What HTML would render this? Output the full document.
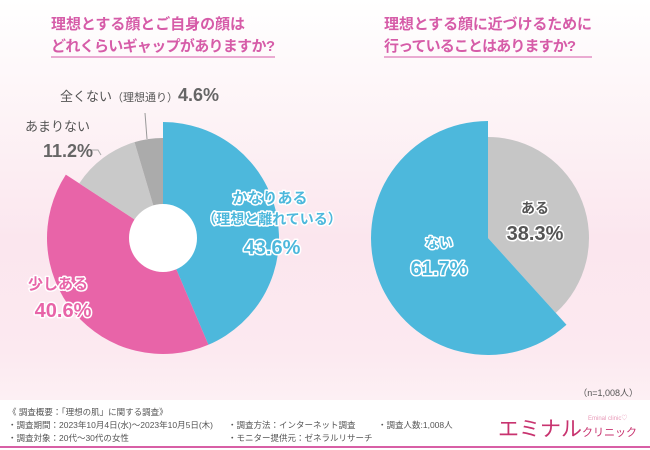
<!DOCTYPE html>
<html><head><meta charset="utf-8"><style>
body{margin:0;width:650px;height:450px;overflow:hidden;font-family:"Liberation Sans","Noto Sans CJK JP",sans-serif;}
svg{display:block}
text{font-family:"Liberation Sans","Noto Sans CJK JP",sans-serif;}
</style></head><body>
<svg id="chart" width="650" height="450" viewBox="0 0 650 450">
<defs>
<linearGradient id="bg" x1="0" y1="0" x2="0" y2="1">
<stop offset="0" stop-color="#ffffff"/><stop offset="0.3" stop-color="#fdf3f6"/><stop offset="0.6" stop-color="#fbe6ee"/><stop offset="0.88" stop-color="#fce9f0"/><stop offset="1" stop-color="#fdf0f4"/>
</linearGradient>
</defs>
<rect width="650" height="400" fill="url(#bg)"/>
<rect y="400" width="650" height="50" fill="#ffffff"/>
<line x1="0" y1="447" x2="650" y2="447" stroke="#d85fa6" stroke-width="2"/>
<g fill="#d65ca8" font-size="15" font-weight="bold">
<text x="51" y="29" textLength="194">理想とする顔とご自身の顔は</text>
<text x="51" y="51" textLength="224">どれくらいギャップがありますか?</text>
<text x="384" y="29" textLength="208">理想とする顔に近づけるために</text>
<text x="384" y="51" textLength="192">行っていることはありますか?</text>
</g>
<line x1="51" y1="57" x2="275" y2="57" stroke="#d65ca8" stroke-width="1"/>
<line x1="384" y1="57" x2="592" y2="57" stroke="#d65ca8" stroke-width="1"/>
<g id="pies"></g>
<g font-size="12" fill="#555">
<line x1="147" y1="139" x2="145" y2="113" stroke="#999"/>
<path d="M90 150 H98 L101 155" fill="none" stroke="#aaa"/>
<text x="60" y="101" font-size="13">全くない<tspan font-size="11">（理想通り）</tspan><tspan font-size="18" font-weight="bold" fill="#666">4.6%</tspan></text>
<text x="25" y="131" font-size="13">あまりない</text>
<text x="43" y="157" font-size="18" font-weight="bold" fill="#666">11.2%</text>
</g>
<g font-weight="bold" stroke="#fff" stroke-width="3" paint-order="stroke" stroke-linejoin="round">
<text x="270" y="203" font-size="15" fill="#4db8dc" text-anchor="middle">かなりある</text>
<text x="272" y="224" font-size="14" fill="#4db8dc" text-anchor="middle">（理想と離れている）</text>
<text x="272" y="254" font-size="20" fill="#4db8dc" text-anchor="middle">43.6%</text>
<text x="58" y="289" font-size="15" fill="#e864a8" text-anchor="middle">少しある</text>
<text x="63" y="317" font-size="20" fill="#e864a8" text-anchor="middle">40.6%</text>
<text x="535" y="213" font-size="14" fill="#555" text-anchor="middle">ある</text>
<text x="535" y="240" font-size="20" fill="#555" text-anchor="middle">38.3%</text>
<text x="439" y="248" font-size="14" fill="#4db8dc" text-anchor="middle">ない</text>
<text x="439" y="275" font-size="20" fill="#4db8dc" text-anchor="middle">61.7%</text>
</g>
<text x="638" y="396" font-size="9" fill="#555" text-anchor="end">（n=1,008人）</text>
<g font-size="8.5" fill="#555">
<text x="8" y="415">《 調査概要：「理想の肌」に関する調査》</text>
<text x="8" y="428">・調査期間：2023年10月4日(水)～2023年10月5日(木)</text>
<text x="8" y="441">・調査対象：20代～30代の女性</text>
<text x="228" y="428">・調査方法：インターネット調査</text>
<text x="228" y="441">・モニター提供元：ゼネラルリサーチ</text>
<text x="378" y="428">・調査人数:1,008人</text>
</g>
<text x="498" y="436" font-size="21" fill="#c8336f">エミナル<tspan font-size="11">クリニック</tspan></text>
<text x="588" y="420" font-size="6" fill="#e89ab8">Eminal clinic♡</text>
</svg>
<script>
const leftCategories = ["かなりある", "少しある", "あまりない", "全くない"];
const leftValues = [43.6, 40.6, 11.2, 4.6];
const leftColors = ["#4db8dc", "#e864a8", "#c9c9c9", "#ababab"];
const leftRadii = [116, 116, 100, 100];
const rightCategories = ["ある", "ない"];
const rightValues = [38.3, 61.7];
const rightColors = ["#c6c6c6", "#4db8dc"];
const rightRadii = [101, 117];

const NS = "http://www.w3.org/2000/svg";
const g = document.getElementById("pies");
function angleScale(v, total) { return v / total * Math.PI * 2; }
function arc(cx, cy, r, a0, a1) {
  const x0 = cx + r * Math.sin(a0), y0 = cy - r * Math.cos(a0);
  const x1 = cx + r * Math.sin(a1), y1 = cy - r * Math.cos(a1);
  const large = (a1 - a0) > Math.PI ? 1 : 0;
  return `M${cx},${cy} L${x0},${y0} A${r},${r} 0 ${large} 1 ${x1},${y1} Z`;
}
function drawPie(cx, cy, cats, vals, colors, radii, startFrac, prefix) {
  const total = vals.reduce((a, b) => a + b, 0);
  let a = angleScale(startFrac, 1);
  vals.forEach((v, i) => {
    const a1 = a + angleScale(v, total);
    const p = document.createElementNS(NS, "path");
    p.setAttribute("d", arc(cx, cy, radii[i], a, a1));
    p.setAttribute("fill", colors[i]);
    
    
    g.appendChild(p);
    a = a1;
  });
}
drawPie(163, 238, leftCategories, leftValues, leftColors, leftRadii, 0, "left-pie");
const hole = document.createElementNS(NS, "circle");
hole.setAttribute("cx", 163); hole.setAttribute("cy", 238); hole.setAttribute("r", 34); hole.setAttribute("fill", "#fff");


g.appendChild(hole);
drawPie(488, 238, rightCategories, rightValues, rightColors, rightRadii, 0, "right-pie");
</script>
</body></html>
